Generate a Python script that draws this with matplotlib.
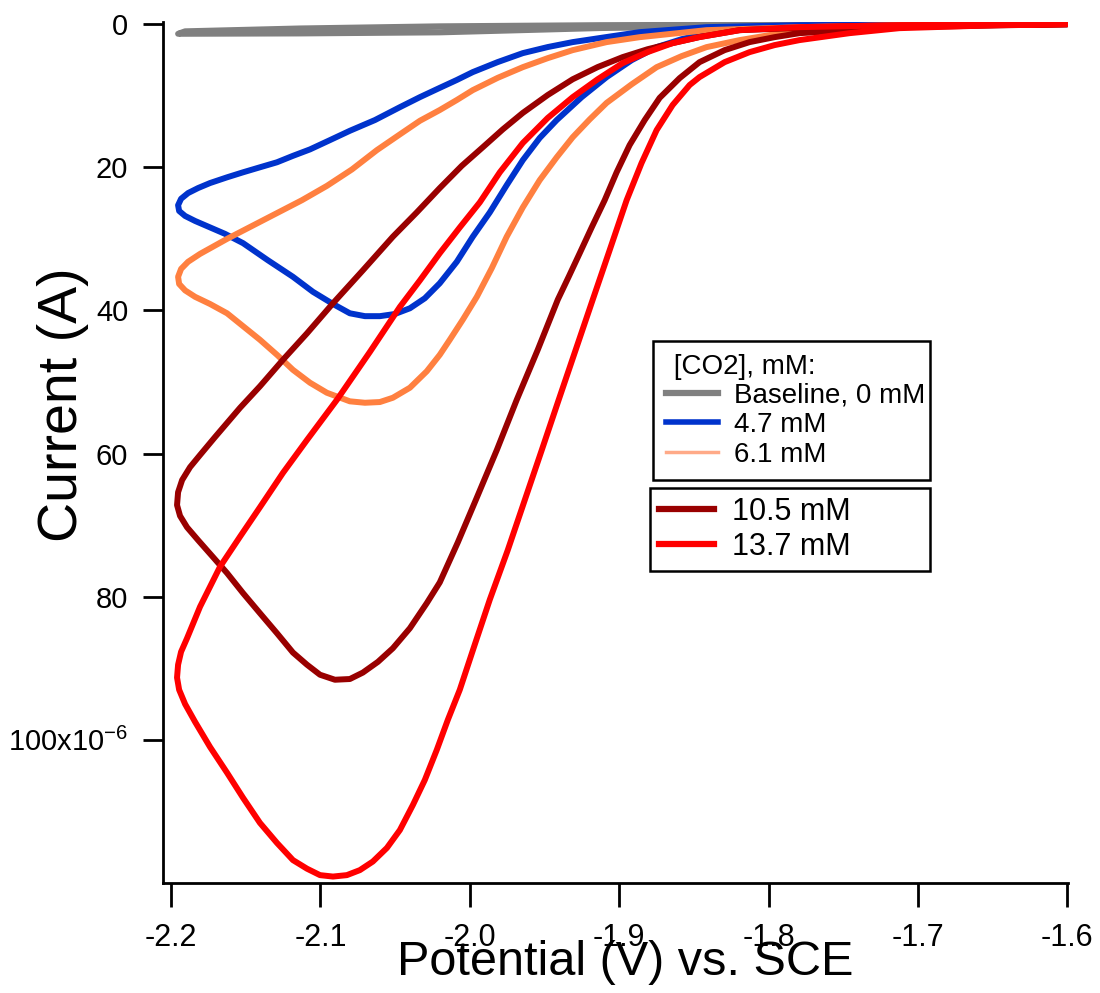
import matplotlib
matplotlib.use('Agg')
import matplotlib.pyplot as plt
from matplotlib.lines import Line2D
import numpy as np

plt.rcParams['font.family'] = ['Liberation Sans', 'DejaVu Sans']
plt.rcParams['mathtext.fontset'] = 'custom'
plt.rcParams['mathtext.rm'] = 'Liberation Sans'
plt.rcParams['axes.unicode_minus'] = False

# Cyclic voltammograms.
# potential in V vs. SCE, current in microamps (cathodic sweep first, then return sweep)
base_v = [-1.600, -1.7793, -1.9130, -2.0201, -2.1137, -2.1953,
          -2.1906, -2.1137, -2.0201, -1.9130, -1.7793, -1.600]
base_i = [0.0, 0.14, 0.55, 1.15, 1.30, 1.35,
          1.0, 0.60, 0.30, 0.14, 0.05, 0.0]

co2_47_v = [-1.600, -1.7124, -1.7793, -1.8194, -1.8415, -1.8582, -1.8749, -1.8916,
            -1.9084, -1.9251, -1.9418, -1.9532, -1.9645, -1.9753, -1.9866, -1.9980,
            -2.0087, -2.0201, -2.0301, -2.0401, -2.0502, -2.0602, -2.0702, -2.0803,
            -2.0916, -2.1050, -2.1184, -2.1351, -2.1518, -2.1639, -2.1739, -2.1839,
            -2.1906, -2.1946, -2.1953,
            -2.1933, -2.1886, -2.1819, -2.1739, -2.1625, -2.1518, -2.1405, -2.1291,
            -2.1184, -2.1070, -2.0936, -2.0803, -2.0635, -2.0468, -2.0334, -2.0201,
            -2.0087, -1.9980, -1.9813, -1.9645, -1.9478, -1.9311, -1.9084, -1.8863,
            -1.8415, -1.7793, -1.600]
co2_47_i = [0.0, 0.14, 0.28, 0.56, 1.26, 2.1, 3.21, 5.03,
            7.40, 10.2, 13.4, 15.9, 19.0, 22.5, 26.3, 29.7,
            33.2, 36.2, 38.3, 39.7, 40.5, 40.8, 40.8, 40.4,
            39.1, 37.4, 35.3, 33.0, 30.6, 29.3, 28.4, 27.5,
            26.8, 26.1, 25.3,
            24.4, 23.6, 22.9, 22.2, 21.4, 20.7, 20.0, 19.3,
            18.4, 17.5, 16.2, 14.9, 13.4, 11.6, 10.2, 8.9,
            7.8, 6.7, 5.3, 4.05, 3.2, 2.51, 1.8, 1.12,
            0.42, 0.14, 0.0]

co2_61_v = [-1.600, -1.7124, -1.7793, -1.8194, -1.8415, -1.8582, -1.8749, -1.8916,
            -1.9084, -1.9197, -1.9311, -1.9418, -1.9532, -1.9645, -1.9753, -1.9853,
            -1.9953, -2.0047, -2.0134, -2.0201, -2.0288, -2.0401, -2.0515, -2.0602,
            -2.0702, -2.0803, -2.0957, -2.1070, -2.1184, -2.1291, -2.1405, -2.1518,
            -2.1625, -2.1739, -2.1839, -2.1906, -2.1946, -2.1953,
            -2.1933, -2.1886, -2.1806, -2.1625, -2.1458, -2.1291, -2.1124, -2.0957,
            -2.0789, -2.0622, -2.0468, -2.0334, -2.0201, -2.0087, -1.9980, -1.9813,
            -1.9645, -1.9478, -1.9311, -1.9084, -1.8863, -1.8415, -1.7793, -1.7124,
            -1.600]
co2_61_i = [0.0, 0.28, 0.84, 2.23, 3.21, 4.47, 6.01, 8.4,
            11.0, 13.3, 15.8, 18.6, 21.8, 25.6, 29.7, 34.1,
            38.1, 41.3, 44.1, 46.2, 48.5, 50.8, 52.2, 52.8,
            52.9, 52.7, 51.5, 50.1, 48.3, 46.2, 44.1, 42.2,
            40.4, 39.1, 38.1, 37.2, 36.3, 35.3,
            34.2, 33.2, 32.1, 30.0, 28.2, 26.4, 24.6, 22.6,
            20.3, 17.6, 15.4, 13.5, 12.0, 10.6, 9.22, 7.5,
            6.01, 4.75, 3.63, 2.51, 1.82, 0.84, 0.42, 0.14,
            0.0]

co2_105_v = [-1.600, -1.7124, -1.7793, -1.7960, -1.8127, -1.8294, -1.8462, -1.8595,
             -1.8729, -1.8829, -1.8930, -1.9017, -1.9097, -1.9184, -1.9264, -1.9338,
             -1.9411, -1.9545, -1.9686, -1.9819, -1.9960, -2.0080, -2.0201, -2.0288,
             -2.0401, -2.0515, -2.0615, -2.0716, -2.0803, -2.0903, -2.1003, -2.1090,
             -2.1184, -2.1291, -2.1405, -2.1518, -2.1625, -2.1726, -2.1819, -2.1893,
             -2.1940, -2.1960,
             -2.1953, -2.1926, -2.1873, -2.1806, -2.1706, -2.1538, -2.1405, -2.1251,
             -2.1090, -2.0916, -2.0716, -2.0515, -2.0355, -2.0201, -2.0054, -1.9913,
             -1.9779, -1.9645, -1.9478, -1.9311, -1.9144, -1.8977, -1.8809, -1.8642,
             -1.8462, -1.8194, -1.7458, -1.600]
co2_105_i = [0.0, 0.42, 1.26, 1.82, 2.51, 3.63, 5.31, 7.54,
             10.3, 13.4, 16.9, 20.7, 24.6, 28.4, 32.0, 35.3,
             38.5, 45.5, 52.5, 59.5, 66.5, 72.4, 78.0, 80.9,
             84.4, 87.2, 89.1, 90.6, 91.5, 91.6, 90.9, 89.5,
             87.8, 85.1, 82.3, 79.5, 76.7, 74.3, 72.1, 70.3,
             68.7, 67.2,
             65.4, 63.7, 61.9, 60.2, 57.7, 53.6, 50.6, 46.9,
             43.2, 39.0, 34.4, 29.7, 26.3, 22.9, 19.8, 17.2,
             14.7, 12.4, 9.9, 7.7, 6.0, 4.61, 3.5, 2.65,
             1.8, 0.84, 0.28, 0.0]

co2_137_v = [-1.600, -1.6455, -1.7124, -1.7458, -1.7793, -1.7960, -1.8127, -1.8294,
             -1.8462, -1.8528, -1.8642, -1.8749, -1.8850, -1.8950, -1.9064, -1.9177,
             -1.9291, -1.9405, -1.9518, -1.9632, -1.9746, -1.9866, -1.9967, -2.0067,
             -2.0147, -2.0221, -2.0301, -2.0381, -2.0468, -2.0555, -2.0649, -2.0736,
             -2.0823, -2.0916, -2.1003, -2.1090, -2.1184, -2.1291, -2.1405, -2.1518,
             -2.1625, -2.1739, -2.1839, -2.1906, -2.1946, -2.1960,
             -2.1953, -2.1933, -2.1893, -2.1806, -2.1672, -2.1538, -2.1405, -2.1251,
             -2.1090, -2.0890, -2.0669, -2.0468, -2.0334, -2.0201, -2.0067, -1.9933,
             -1.9799, -1.9645, -1.9478, -1.9311, -1.9144, -1.8977, -1.8809, -1.8642,
             -1.8462, -1.8194, -1.7793, -1.7124, -1.600]
co2_137_i = [0.0, 0.14, 0.56, 1.26, 2.23, 2.93, 3.91, 5.31,
             7.40, 8.5, 11.3, 14.8, 19.4, 24.6, 31.6, 38.5,
             45.5, 52.5, 59.5, 66.5, 73.5, 80.4, 86.7, 93.0,
             97.2, 101.4, 105.6, 109.1, 112.6, 115.1, 117.0, 118.2,
             118.9, 119.1, 118.9, 118.0, 116.8, 114.4, 111.6, 108.1,
             104.6, 101.0, 97.5, 95.0, 93.0, 91.3,
             89.5, 87.7, 85.8, 81.4, 75.8, 71.6, 67.5, 62.7,
             58.1, 52.5, 45.8, 39.5, 35.8, 32.0, 28.4, 24.9,
             20.7, 16.6, 13.1, 10.2, 7.7, 5.45, 3.9, 2.65,
             1.8, 0.84, 0.42, 0.14, 0.0]

colors = {'base': '#808080', '4.7': '#0033cc', '6.1': '#ff8040',
          '10.5': '#990000', '13.7': '#ff0000'}

fig = plt.figure(figsize=(11, 9.93), dpi=100)
ax = fig.add_axes([163 / 1100, 110 / 993, 905 / 1100, 861 / 993])

lw = 4.3
for v, i, c in [(base_v, base_i, colors['base']),
                (co2_47_v, co2_47_i, colors['4.7']),
                (co2_61_v, co2_61_i, colors['6.1']),
                (co2_105_v, co2_105_i, colors['10.5']),
                (co2_137_v, co2_137_i, colors['13.7'])]:
    ax.plot(np.array(v), np.array(i) * 1e-6, color=c, lw=lw,
            solid_joinstyle='round', solid_capstyle='round')

ax.set_xlim(-2.2054, -1.5995)
ax.set_ylim(120e-6, -0.3e-6)

xt = [-2.2, -2.1, -2.0, -1.9, -1.8, -1.7, -1.6]
ax.set_xticks(xt)
ax.set_xticklabels(['-2.2', '-2.1', '-2.0', '-1.9', '-1.8', '-1.7', '-1.6'])
yt = [0, 20e-6, 40e-6, 60e-6, 80e-6, 100e-6]
ax.set_yticks(yt)
ax.set_yticklabels(['0', '20', '40', '60', '80', r'100x10$^{\mathregular{-6}}$'])

for s in ['top', 'right']:
    ax.spines[s].set_visible(False)
for s in ['left', 'bottom']:
    ax.spines[s].set_linewidth(2)
ax.tick_params(axis='x', direction='out', length=17, width=2, labelsize=22, pad=12)
ax.tick_params(axis='y', direction='out', length=14.5, width=2, labelsize=21, pad=10.5)

fig.text(0.568, 0.031, 'Potential (V) vs. SCE', fontsize=35, ha='center', va='center')
fig.text(0.057, 0.592, 'Current (A)', fontsize=40, ha='center', va='center', rotation=90)

h1 = [Line2D([], [], color=colors['base'], lw=4.5),
      Line2D([], [], color=colors['4.7'], lw=4),
      Line2D([], [], color='#ffaa88', lw=2.5)]
leg1 = ax.legend(h1, ['Baseline, 0 mM', '4.7 mM', '6.1 mM'], title=' [CO2], mM:',
                 loc='upper left', bbox_to_anchor=(653 / 1100, 1 - 481 / 993, 277 / 1100, 140 / 993),
                 bbox_transform=fig.transFigure, mode='expand', fontsize=20, title_fontsize=20,
                 alignment='left', fancybox=False, edgecolor='black', framealpha=1,
                 borderaxespad=0, borderpad=0.45, labelspacing=0.12, handlelength=1.9,
                 handletextpad=0.55)
leg1.get_frame().set_linewidth(1.8)
ax.add_artist(leg1)

h2 = [Line2D([], [], color=colors['10.5'], lw=4.5),
      Line2D([], [], color=colors['13.7'], lw=4.5)]
leg2 = ax.legend(h2, ['10.5 mM', '13.7 mM'],
                 loc='upper left', bbox_to_anchor=(650 / 1100, 1 - 573 / 993, 280 / 1100, 85 / 993),
                 bbox_transform=fig.transFigure, mode='expand', fontsize=22,
                 fancybox=False, edgecolor='black', framealpha=1,
                 borderaxespad=0, borderpad=0.3, labelspacing=0.15, handlelength=1.8,
                 handletextpad=0.6)
leg2.get_frame().set_linewidth(1.8)

fig.savefig('out.png', dpi=100)
